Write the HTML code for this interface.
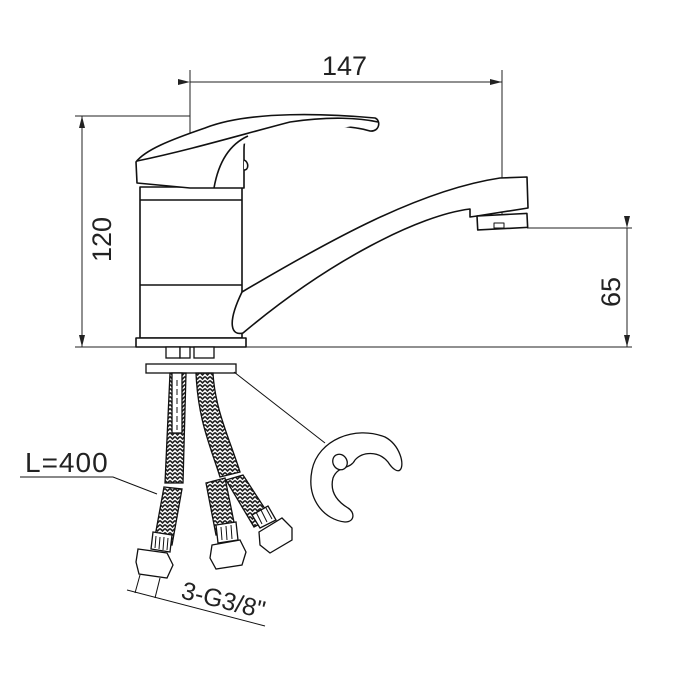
<!DOCTYPE html>
<html><head><meta charset="utf-8"><style>
html,body{margin:0;padding:0;background:#fff;}
svg{display:block;}
text{font-family:"Liberation Sans",Arial,sans-serif;fill:#222;}
</style></head><body>
<svg width="678" height="678" viewBox="0 0 678 678" xmlns="http://www.w3.org/2000/svg">
<defs>
<pattern id="hb" width="5" height="4" patternUnits="userSpaceOnUse">
<rect width="5" height="4" fill="#fff"/>
<path d="M0 0.5 L2.5 3 L5 0.5" stroke="#222" stroke-width="1.6" fill="none"/>
</pattern>
<marker id="ar" markerWidth="12" markerHeight="6" refX="12" refY="3" orient="auto" markerUnits="userSpaceOnUse">
<path d="M0 0 L12 3 L0 6 Z" fill="#222"/>
</marker>
</defs>
<g stroke="#222" fill="none" stroke-width="1">
<line x1="190" y1="70" x2="190" y2="352"/>
<line x1="502" y1="70" x2="502" y2="228"/>
<line x1="190" y1="82" x2="502" y2="82" marker-start="url(#ar)" marker-end="url(#ar)"/>
<line x1="75" y1="116" x2="190" y2="116"/>
<line x1="82" y1="347" x2="82" y2="116" marker-end="url(#ar)"/>
<line x1="82" y1="116" x2="82" y2="347" marker-end="url(#ar)"/>
<line x1="75" y1="347" x2="632" y2="347"/>
<line x1="527" y1="228" x2="632" y2="228"/>
<line x1="627" y1="228" x2="627" y2="347" marker-start="url(#ar)" marker-end="url(#ar)"/>
</g>
<g stroke="#111" fill="#fff" stroke-width="1.6" stroke-linejoin="round">
<rect x="140" y="187" width="102" height="151"/>
<line x1="140" y1="200" x2="242" y2="200"/>
<line x1="140" y1="285" x2="242" y2="285"/>
<rect x="136" y="338" width="110" height="9"/>
<path d="M136 162 L137 183 L190 188 L244 188 L244 150 C244 140 246 138 248 136 C300 126 340 122 370 131 C380 132 381 120 375 118 C330 114 250 110 205 128 C170 140 145 150 136 162 Z"/>
<path d="M214 188 C218 165 228 145 248 136 M137 161 C190 150 240 135 290 122 C330 116 360 118 378 122"/>
<path d="M244 160 C249 162 249 170 244 170"/>
<path d="M242 292 C330 240 420 190 500 178 L527 177 L528 208 L477 216 L470 217 L470 209 C420 215 330 260 243 333 C232 336 226 325 242 292 Z"/>
<rect x="477" y="216" width="50" height="14" transform="rotate(-3 477 216)"/>
<rect x="494" y="223" width="10" height="5" stroke-width="1"/>
</g>
<g stroke="#111" fill="#fff" stroke-width="1.3">
<rect x="166" y="347" width="14" height="11"/>
<rect x="180" y="347" width="10" height="11"/>
<rect x="194" y="347" width="20" height="11"/>
<rect x="146" y="364" width="90" height="9"/>
<line x1="234" y1="372" x2="325" y2="443" stroke-width="1"/>
<path d="M170 373 L186 373 L183 483 L165 483 Z" fill="url(#hb)"/>
<rect x="172" y="373" width="10" height="60" fill="#fff"/>
<line x1="177" y1="380" x2="177" y2="430" stroke-dasharray="6 3" stroke-width="1"/>
<path d="M164 487 L182 489 L172 545 L154 542 Z" fill="url(#hb)"/>
<path d="M196 373 L213 373 C215 410 230 440 240 472 L220 477 C210 445 198 420 196 373 Z" fill="url(#hb)"/>
<path d="M206 483 L225 478 L236 532 L216 535 Z" fill="url(#hb)"/>
<path d="M226 480 L243 475 L271 518 L254 527 Z" fill="url(#hb)"/>
<path d="M153 532 L172 535 L170 552 L151 549 Z" fill="#fff"/>
<path d="M156 536 L155 548 M160 537 L159 549 M164 537 L163 550 M168 538 L167 550" stroke-width="1"/>
<path d="M216 525 L236 522 L238 540 L218 543 Z"/>
<path d="M221 527 L222 540 M226 526 L227 540 M231 525 L232 539" stroke-width="1"/>
<path d="M252 515 L268 506 L276 520 L260 528 Z"/>
<path d="M256 512 L262 524 M261 510 L267 522 M266 508 L272 519" stroke-width="1"/>
<path d="M138 549 L167 553 L173 565 L167 578 L139 574 L136 562 Z"/>
<path d="M212 545 L240 540 L246 552 L242 565 L216 569 L210 558 Z"/>
<path d="M259 532 L282 518 L292 528 L292 540 L270 553 L260 545 Z"/>
<polyline points="20,477 113,477 157,494" fill="none" stroke-width="1"/>
<line x1="140" y1="575" x2="135" y2="593" stroke-width="1"/>
<line x1="160" y1="578" x2="155" y2="598" stroke-width="1"/>
<line x1="127" y1="590" x2="265" y2="626" stroke-width="1"/>
<path d="M400 470 C405 465 400 445 385 437 C355 425 318 440 312 470 C306 500 325 520 345 522 C355 522 355 512 348 508 C335 500 330 490 333 478 C338 465 350 470 355 460 C362 452 378 450 388 462 C393 470 398 472 400 470 Z"/>
<ellipse cx="340" cy="462" rx="7" ry="8" transform="rotate(-30 340 462)"/>
</g>
<text x="322" y="75" font-size="27">147</text>
<text x="25" y="472" font-size="28" letter-spacing="1">L=400</text>
<text transform="translate(111,262) rotate(-90)" font-size="27">120</text>
<text transform="translate(620,307) rotate(-90)" font-size="27">65</text>
<text transform="translate(180,598) rotate(14)" font-size="25">3-G3/8"</text>
</svg>
</body></html>
